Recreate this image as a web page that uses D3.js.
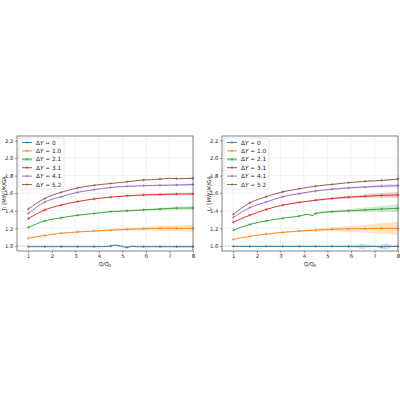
<!DOCTYPE html>
<html>
<head>
<meta charset="utf-8">
<script src="https://cdn.jsdelivr.net/npm/d3@7"></script>
<style>
  body { margin: 0; background: #fff; }
  text { font-family: "DejaVu Sans", sans-serif; fill: #222; }
</style>
</head>
<body>
<div id="chart"></div>
<script>
// legend labels for the six series
const deltaY = ["0", "1.0", "2.1", "3.1", "4.1", "5.2"];
const colors = ["#1f77b4", "#ff7f0e", "#2ca02c", "#d62728", "#9467bd", "#8c564b"];
const xTicks = [1, 2, 3, 4, 5, 6, 7, 8];
const yTicks = [1.0, 1.2, 1.4, 1.6, 1.8, 2.0, 2.2];
// x positions where the "+" markers sit
const markQ = [1, 1.7, 2.4, 3.1, 3.8, 4.5, 5.2, 5.9, 6.6, 7.3, 8];

// left panel: [Q/Q0, mean, spread]
const leftS0 = [[1,0.992,0.004],[1.7,0.992,0.004],[2.4,0.992,0.004],[3.1,0.992,0.004],[3.8,0.992,0.004],[4.3,0.993,0.005],[4.5,1.0,0.006],[4.7,1.01,0.006],[4.9,1.0,0.006],[5.2,0.984,0.006],[5.4,0.996,0.006],[5.6,0.992,0.005],[5.9,0.992,0.005],[6.6,0.992,0.006],[7.3,0.992,0.008],[8,0.992,0.008]];
const leftS1 = [[1,1.09,0.002],[1.7,1.12,0.003],[2.4,1.145,0.004],[3.1,1.16,0.006],[3.8,1.17,0.008],[4.5,1.18,0.011],[5.2,1.19,0.015],[5.9,1.195,0.02],[6.6,1.2,0.026],[7.3,1.2,0.033],[8,1.2,0.04]];
const leftS2 = [[1,1.21,0.002],[1.7,1.285,0.003],[2.4,1.32,0.003],[3.1,1.35,0.004],[3.8,1.37,0.005],[4.5,1.39,0.006],[5.2,1.4,0.008],[5.9,1.41,0.01],[6.6,1.42,0.013],[7.3,1.43,0.017],[8,1.432,0.02]];
const leftS3 = [[1,1.31,0.002],[1.7,1.41,0.003],[2.4,1.465,0.003],[3.1,1.505,0.004],[3.8,1.535,0.004],[4.5,1.555,0.005],[5.2,1.57,0.007],[5.9,1.58,0.009],[6.6,1.585,0.011],[7.3,1.59,0.013],[8,1.592,0.016]];
const leftS4 = [[1,1.37,0.002],[1.7,1.5,0.003],[2.4,1.56,0.003],[3.1,1.61,0.003],[3.8,1.64,0.004],[4.5,1.665,0.004],[5.2,1.678,0.005],[5.9,1.685,0.006],[6.6,1.69,0.008],[7.3,1.693,0.01],[8,1.698,0.012]];
const leftS5 = [[1,1.42,0.002],[1.7,1.54,0.002],[2.4,1.61,0.003],[3.1,1.66,0.003],[3.8,1.69,0.003],[4.5,1.71,0.004],[5.2,1.73,0.004],[5.9,1.75,0.005],[6.6,1.76,0.005],[7.0,1.77,0.006],[7.3,1.765,0.006],[8,1.77,0.007]];

// right panel
const rightS0 = [[1,0.995,0.004],[1.7,0.995,0.004],[2.4,0.995,0.004],[3.1,0.995,0.004],[3.8,0.995,0.004],[4.5,0.995,0.004],[5.2,0.995,0.005],[5.9,0.995,0.008],[6.3,0.995,0.02],[6.5,0.995,0.03],[6.7,0.995,0.015],[7.0,0.995,0.006],[7.3,0.99,0.02],[7.5,0.995,0.035],[7.7,0.995,0.01],[8,0.995,0.006]];
const rightS1 = [[1,1.075,0.002],[1.7,1.11,0.003],[2.4,1.135,0.005],[3.1,1.155,0.007],[3.8,1.17,0.01],[4.5,1.18,0.015],[5.2,1.19,0.022],[5.9,1.195,0.032],[6.6,1.197,0.045],[7.3,1.2,0.06],[8,1.2,0.075]];
const rightS2 = [[1,1.18,0.002],[1.7,1.245,0.003],[2.4,1.285,0.003],[3.1,1.315,0.004],[3.8,1.34,0.005],[4.2,1.36,0.006],[4.35,1.345,0.007],[4.5,1.37,0.008],[5.2,1.39,0.012],[5.9,1.4,0.018],[6.6,1.41,0.026],[7.3,1.42,0.035],[8,1.428,0.045]];
const rightS3 = [[1,1.27,0.002],[1.7,1.35,0.003],[2.4,1.415,0.003],[3.1,1.465,0.004],[3.8,1.495,0.006],[4.5,1.52,0.008],[5.2,1.54,0.011],[5.9,1.555,0.015],[6.6,1.565,0.02],[7.3,1.575,0.027],[8,1.58,0.034]];
const rightS4 = [[1,1.325,0.002],[1.7,1.435,0.003],[2.4,1.5,0.003],[3.1,1.56,0.004],[3.8,1.595,0.004],[4.5,1.625,0.005],[5.2,1.645,0.007],[5.9,1.66,0.009],[6.6,1.67,0.012],[7.3,1.68,0.016],[8,1.685,0.02]];
const rightS5 = [[1,1.36,0.002],[1.7,1.49,0.002],[2.4,1.56,0.003],[3.1,1.615,0.003],[3.8,1.65,0.003],[4.5,1.68,0.004],[5.2,1.7,0.004],[5.9,1.72,0.005],[6.6,1.735,0.006],[7.3,1.745,0.007],[8,1.76,0.008]];

const svg = d3.select("#chart").append("svg")
  .attr("width", 400).attr("height", 400);

function drawPanel(opts) {
  const { left, right, top, bottom, series, ylabel } = opts;

  const x = d3.scaleLinear().domain([0.52, 8]).range([left, right]);
  const y = d3.scaleLinear().domain([0.943, 2.25]).range([bottom, top]);

  const g = svg.append("g");

  // grid
  g.selectAll(".gx").data(xTicks).enter().append("line")
    .attr("x1", d => x(d)).attr("x2", d => x(d))
    .attr("y1", top).attr("y2", bottom)
    .attr("stroke", "#ebebeb").attr("stroke-width", 0.6);
  g.selectAll(".gy").data(yTicks).enter().append("line")
    .attr("x1", left).attr("x2", right)
    .attr("y1", d => y(d)).attr("y2", d => y(d))
    .attr("stroke", "#ebebeb").attr("stroke-width", 0.6);

  // reference line at 1
  g.append("line")
    .attr("x1", left).attr("x2", right)
    .attr("y1", y(1)).attr("y2", y(1))
    .attr("stroke", "#888").attr("stroke-width", 0.5)
    .attr("stroke-dasharray", "1.5,1.5");

  const area = d3.area()
    .x(d => x(d[0]))
    .y0(d => y(d[1] - d[2]))
    .y1(d => y(d[1] + d[2]))
    .curve(d3.curveMonotoneX);
  const line = d3.line()
    .x(d => x(d[0]))
    .y(d => y(d[1]))
    .curve(d3.curveMonotoneX);

  series.forEach((s, i) => {
    g.append("path").datum(s)
      .attr("d", area)
      .attr("fill", colors[i]).attr("fill-opacity", 0.22);
    g.append("path").datum(s)
      .attr("d", line)
      .attr("fill", "none")
      .attr("stroke", colors[i]).attr("stroke-width", 0.9);
    // + markers
    const marks = s.filter(d => markQ.includes(d[0]));
    g.selectAll(null).data(marks).enter().append("path")
      .attr("d", d => `M${x(d[0]) - 1.4},${y(d[1])}h2.8M${x(d[0])},${y(d[1]) - 1.4}v2.8`)
      .attr("stroke", colors[i]).attr("stroke-width", 0.6);
  });

  // frame
  g.append("rect")
    .attr("x", left).attr("y", top)
    .attr("width", right - left).attr("height", bottom - top)
    .attr("fill", "none").attr("stroke", "#333").attr("stroke-width", 0.6);

  // axes
  const xAxis = g.append("g")
    .attr("transform", `translate(0,${bottom})`)
    .call(d3.axisBottom(x).tickValues(xTicks).tickSize(2).tickPadding(1.5).tickFormat(d3.format("d")));
  const yAxis = g.append("g")
    .attr("transform", `translate(${left},0)`)
    .call(d3.axisLeft(y).tickValues(yTicks).tickSize(2).tickPadding(1.5).tickFormat(d3.format(".1f")));
  [xAxis, yAxis].forEach(a => {
    a.select(".domain").remove();
    a.selectAll(".tick line").attr("stroke", "#333").attr("stroke-width", 0.5);
    a.selectAll(".tick text").style("font-size", "5.3px")
      .style("font-family", "DejaVu Sans, sans-serif").attr("fill", "#222");
  });

  // axis labels
  g.append("text")
    .attr("x", (left + right) / 2).attr("y", bottom + 14.5)
    .attr("text-anchor", "middle").style("font-size", "5.3px")
    .html("Q/Q<tspan font-size='3.8px' dy='1'>0</tspan>");
  g.append("text")
    .attr("transform", `translate(${left - 11.5},${(top + bottom) / 2}) rotate(-90)`)
    .attr("text-anchor", "middle").style("font-size", "5.3px")
    .text(ylabel);

  // legend
  const lg = g.append("g").attr("transform", `translate(${left + 2},${top + 2})`);
  lg.append("rect")
    .attr("width", 45).attr("height", 51).attr("rx", 1.5)
    .attr("fill", "#fff").attr("fill-opacity", 0.8)
    .attr("stroke", "#ccc").attr("stroke-width", 0.5);
  deltaY.forEach((lab, i) => {
    const yy = 4.5 + i * 8.4;
    lg.append("line")
      .attr("x1", 3).attr("x2", 13).attr("y1", yy).attr("y2", yy)
      .attr("stroke", colors[i]).attr("stroke-width", i === 2 ? 2.2 : 0.9)
      .attr("stroke-opacity", i === 2 ? 0.55 : 1);
    lg.append("path")
      .attr("d", `M6.6,${yy}h2.8M8,${yy - 1.4}v2.8`)
      .attr("stroke", colors[i]).attr("stroke-width", 0.6);
    lg.append("text")
      .attr("x", 17).attr("y", yy + 2)
      .style("font-size", "5.8px")
      .html(`Δ<tspan font-style="italic">Y</tspan> = ${lab}`);
  });
}

drawPanel({
  left: 17, right: 193, top: 136, bottom: 251,
  series: [leftS0, leftS1, leftS2, leftS3, leftS4, leftS5],
  ylabel: "T: [MW]/K/GA"
});
drawPanel({
  left: 222, right: 398, top: 136, bottom: 251,
  series: [rightS0, rightS1, rightS2, rightS3, rightS4, rightS5],
  ylabel: "L: [MW]/K/GA"
});
</script>
</body>
</html>
